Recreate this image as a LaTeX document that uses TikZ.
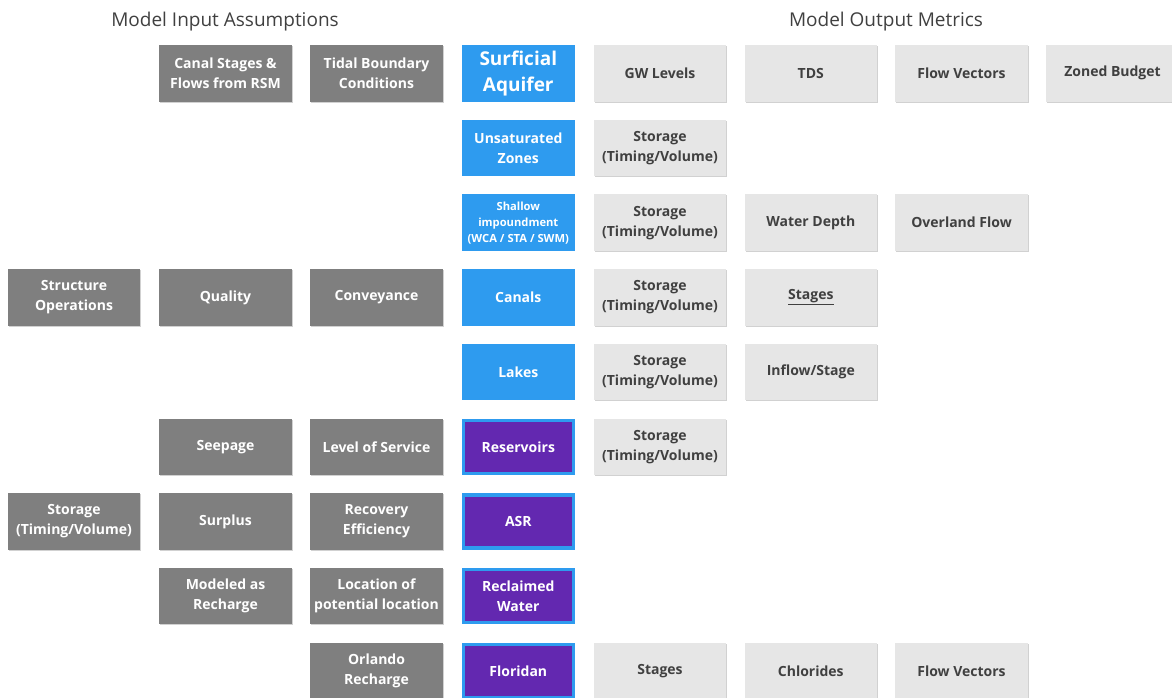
\documentclass[tikz,border=0pt]{standalone}
\usepackage{fontspec}
\setmainfont{Open Sans}
\usetikzlibrary{shadows}
\definecolor{dgray}{HTML}{7F7F7F}
\definecolor{lgray}{HTML}{E6E6E6}
\definecolor{tgray}{HTML}{404040}
\definecolor{sblue}{HTML}{2E9BEF}
\definecolor{spurple}{HTML}{6328B0}
\definecolor{hgray}{HTML}{404040}
\tikzset{
  base/.style={rectangle, minimum width=132.5pt, minimum height=56.5pt, inner sep=0pt, align=center,
    font=\bfseries\fontsize{14}{20}\selectfont},
  shad/.style={drop shadow={shadow xshift=1pt, shadow yshift=-1pt, fill=black!18, opacity=1}},
  inbox/.style={base, shad, fill=dgray, text=white},
  outbox/.style={base, shad, fill=lgray, text=tgray},
  bluebox/.style={base, minimum width=113.5pt, fill=sblue, text=white},
  purplebox/.style={base, minimum width=110pt, minimum height=53pt, fill=spurple, draw=sblue, line width=3.5pt, text=white},
  header/.style={font=\fontsize{19}{22}\selectfont, text=hgray, inner sep=0pt},
}
\begin{document}
\begin{tikzpicture}[x=1pt,y=-1pt]
\useasboundingbox (0,0) rectangle (1172,698);
\clip (0,0) rectangle (1172,698);
% headers
\node[header] (hin) at (225,22) {Model Input Assumptions};
\node[header] (hout) at (886,22) {Model Output Metrics};
% row 0
\node[inbox] (canal) at (225.5,73.3) {Canal Stages \&\\Flows from RSM};
\node[inbox] (tidal) at (376.5,73.3) {Tidal Boundary\\Conditions};
\node[bluebox, font=\bfseries\fontsize{19}{26}\selectfont] (surf) at (518.3,73.3) {Surficial\\Aquifer};
\node[outbox] (gw) at (660,73.3) {GW Levels};
\node[outbox] (tds) at (810.8,73.3) {TDS};
\node[outbox] (fv1) at (961.5,73.3) {Flow Vectors};
\node[outbox] (zb) at (1112.5,73.3) {Zoned Budget};
% row 1
\node[bluebox] (unsat) at (518.3,148) {Unsaturated\\Zones};
\node[outbox] (st1) at (660,148) {Storage\\(Timing/Volume)};
% row 2
\node[bluebox, font=\bfseries\fontsize{11.2}{16}\selectfont] (shallow) at (518.3,222.7) {Shallow\\impoundment\\(WCA / STA / SWM)};
\node[outbox] (st2) at (660,222.7) {Storage\\(Timing/Volume)};
\node[outbox] (wd) at (810.8,222.7) {Water Depth};
\node[outbox] (of) at (961.5,222.7) {Overland Flow};
% row 3
\node[inbox] (so) at (74,297.4) {Structure\\Operations};
\node[inbox] (qual) at (225.5,297.4) {Quality};
\node[inbox] (conv) at (376.5,297.4) {Conveyance};
\node[bluebox] (canals) at (518.3,297.4) {Canals};
\node[outbox] (st3) at (660,297.4) {Storage\\(Timing/Volume)};
\node[outbox] (stg1) at (810.8,297.4) {\underline{Stages}};
% row 4
\node[bluebox] (lakes) at (518.3,372.1) {Lakes};
\node[outbox] (st4) at (660,372.1) {Storage\\(Timing/Volume)};
\node[outbox] (ifs) at (810.8,372.1) {Inflow/Stage};
% row 5
\node[inbox] (seep) at (225.5,446.8) {Seepage};
\node[inbox] (los) at (376.5,446.8) {Level of Service};
\node[purplebox] (res) at (518.3,446.8) {Reservoirs};
\node[outbox] (st5) at (660,446.8) {Storage\\(Timing/Volume)};
% row 6
\node[inbox] (st0) at (74,521.5) {Storage\\(Timing/Volume)};
\node[inbox] (surp) at (225.5,521.5) {Surplus};
\node[inbox] (rec) at (376.5,521.5) {Recovery\\Efficiency};
\node[purplebox] (asr) at (518.3,521.5) {ASR};
% row 7
\node[inbox] (mod) at (225.5,596.2) {Modeled as\\Recharge};
\node[inbox] (loc) at (376.5,596.2) {Location of\\potential location};
\node[purplebox] (recl) at (518.3,596.2) {Reclaimed\\Water};
% row 8
\node[inbox] (orl) at (376.5,670.9) {Orlando\\Recharge};
\node[purplebox] (flor) at (518.3,670.9) {Floridan};
\node[outbox] (stg2) at (660,670.9) {Stages};
\node[outbox] (chl) at (810.8,670.9) {Chlorides};
\node[outbox] (fv2) at (961.5,670.9) {Flow Vectors};
\end{tikzpicture}
\end{document}
